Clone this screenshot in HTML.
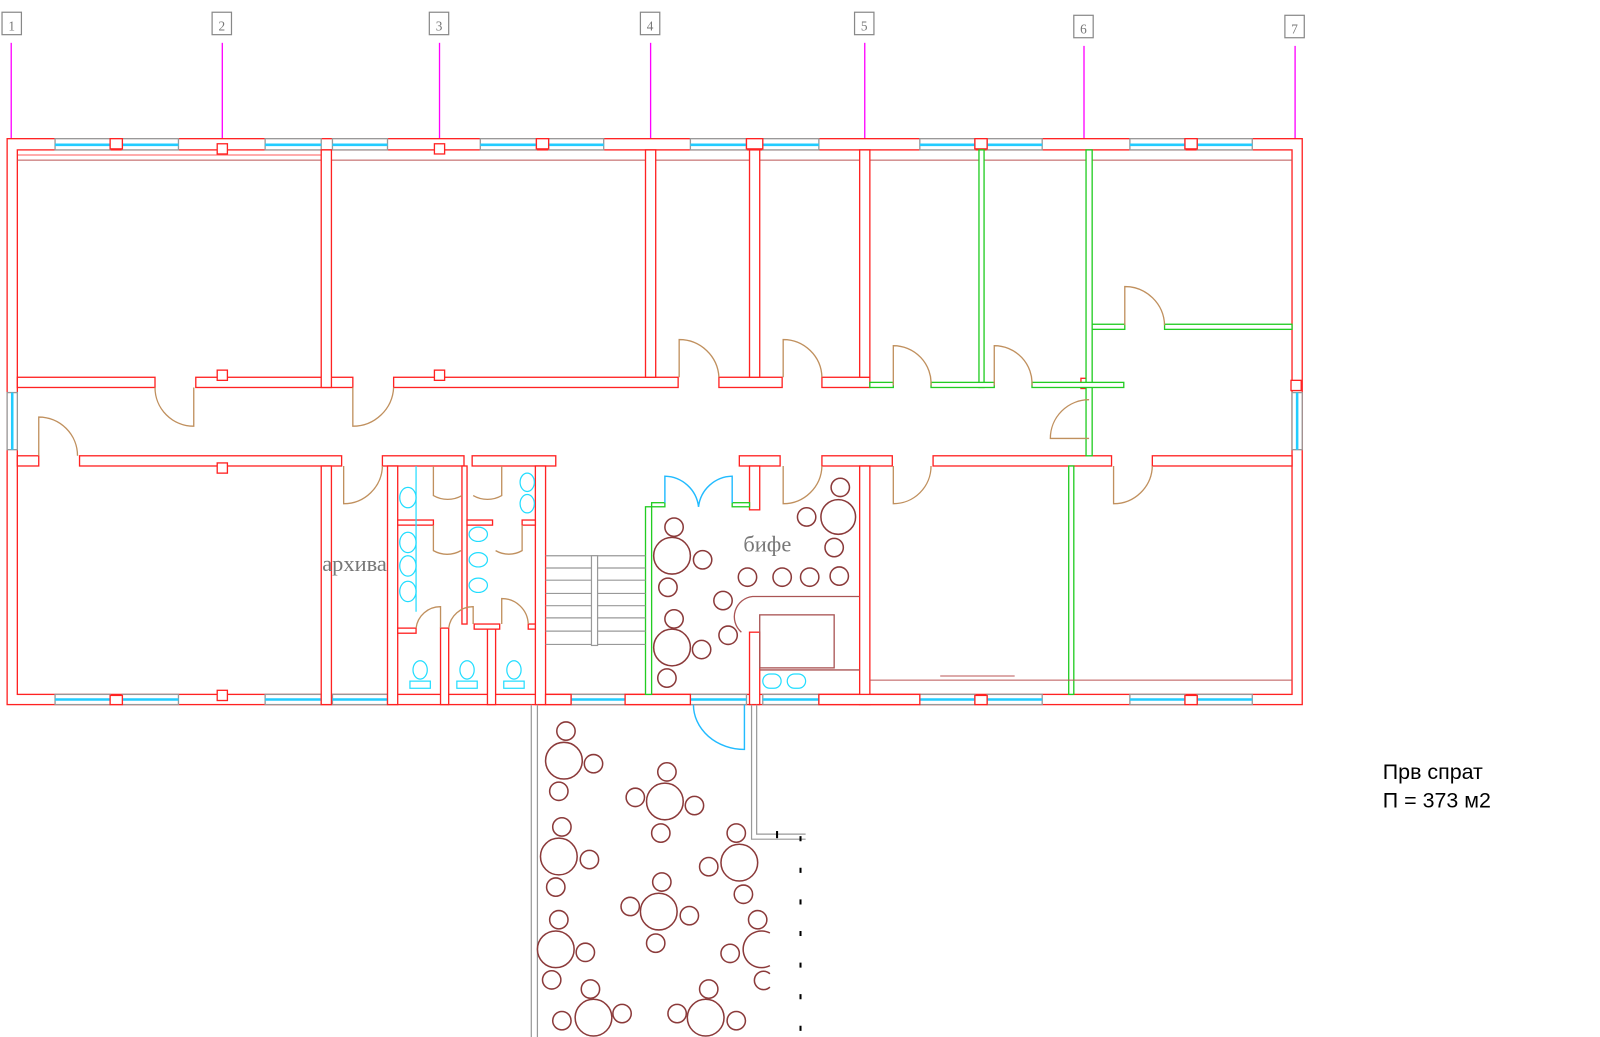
<!DOCTYPE html>
<html><head><meta charset="utf-8"><style>html,body{margin:0;padding:0;background:#fff}svg{display:block}</style></head>
<body>
<svg width="1600" height="1037" viewBox="0 0 1569 1017" preserveAspectRatio="none" xmlns="http://www.w3.org/2000/svg">
<g fill="none" stroke-width="1.3">
<g stroke="#888" stroke-width="1.2">
<rect x="2" y="12" width="19" height="22"/><rect x="208" y="12" width="19" height="22"/><rect x="421" y="12" width="19" height="22"/><rect x="628" y="12" width="19" height="22"/><rect x="838" y="12" width="19" height="22"/><rect x="1053" y="15" width="19" height="22"/><rect x="1260" y="15" width="19" height="22"/>
</g>
<g font-family="Liberation Serif, serif" font-size="13" fill="#777" stroke="none" text-anchor="middle">
<text x="11.5" y="30">1</text><text x="217.5" y="30">2</text><text x="430.5" y="30">3</text><text x="637.5" y="30">4</text><text x="847.5" y="30">5</text><text x="1062.5" y="33">6</text><text x="1269.5" y="33">7</text>
</g>
<g stroke="#f0f" stroke-width="1.3">
<line x1="11" y1="42" x2="11" y2="142"/><line x1="218" y1="42" x2="218" y2="142"/><line x1="431" y1="42" x2="431" y2="142"/><line x1="638" y1="42" x2="638" y2="142"/><line x1="848" y1="42" x2="848" y2="142"/><line x1="1063" y1="45" x2="1063" y2="142"/><line x1="1270" y1="45" x2="1270" y2="142"/>
</g>

<g stroke="#f22" fill="#fff">
<rect x="7" y="136" width="1270" height="555"/>
<rect x="17" y="147" width="1250" height="534"/>
</g>
<g>
<g stroke="#999" fill="#fff">
<rect x="54" y="136" width="54" height="11"/><rect x="120" y="136" width="55" height="11"/><rect x="260" y="136" width="55" height="11"/><rect x="326" y="136" width="54" height="11"/><rect x="471" y="136" width="55" height="11"/><rect x="538" y="136" width="54" height="11"/><rect x="677" y="136" width="55" height="11"/><rect x="748" y="136" width="55" height="11"/><rect x="902" y="136" width="54" height="11"/><rect x="968" y="136" width="54" height="11"/><rect x="1108" y="136" width="54" height="11"/><rect x="1174" y="136" width="54" height="11"/>
<rect x="54" y="681" width="54" height="10"/><rect x="120" y="681" width="55" height="10"/><rect x="260" y="681" width="55" height="10"/><rect x="326" y="681" width="54" height="10"/><rect x="560" y="681" width="53" height="10"/><rect x="677" y="681" width="55" height="10"/><rect x="748" y="681" width="55" height="10"/><rect x="902" y="681" width="54" height="10"/><rect x="968" y="681" width="54" height="10"/><rect x="1108" y="681" width="54" height="10"/><rect x="1174" y="681" width="54" height="10"/>
<rect x="7" y="385" width="10" height="56"/><rect x="1267" y="385" width="10" height="56"/>
</g>
<g stroke="#2cf" stroke-width="2.5">
<line x1="54" y1="142" x2="108" y2="142"/><line x1="120" y1="142" x2="175" y2="142"/><line x1="260" y1="142" x2="315" y2="142"/><line x1="326" y1="142" x2="380" y2="142"/><line x1="471" y1="142" x2="526" y2="142"/><line x1="538" y1="142" x2="592" y2="142"/><line x1="677" y1="142" x2="732" y2="142"/><line x1="748" y1="142" x2="803" y2="142"/><line x1="902" y1="142" x2="956" y2="142"/><line x1="968" y1="142" x2="1022" y2="142"/><line x1="1108" y1="142" x2="1162" y2="142"/><line x1="1174" y1="142" x2="1228" y2="142"/>
<line x1="54" y1="686" x2="108" y2="686"/><line x1="120" y1="686" x2="175" y2="686"/><line x1="260" y1="686" x2="315" y2="686"/><line x1="326" y1="686" x2="380" y2="686"/><line x1="560" y1="686" x2="613" y2="686"/><line x1="677" y1="686" x2="732" y2="686"/><line x1="748" y1="686" x2="803" y2="686"/><line x1="902" y1="686" x2="956" y2="686"/><line x1="968" y1="686" x2="1022" y2="686"/><line x1="1108" y1="686" x2="1162" y2="686"/><line x1="1174" y1="686" x2="1228" y2="686"/>
<line x1="12" y1="385" x2="12" y2="441"/><line x1="1272" y1="385" x2="1272" y2="441"/>
</g>
<g stroke="#f22" fill="#fff">
<rect x="108" y="136" width="12" height="10"/><rect x="526" y="136" width="12" height="10"/><rect x="732" y="136" width="16" height="10"/><rect x="956" y="136" width="12" height="10"/><rect x="1162" y="136" width="12" height="10"/>
<rect x="108" y="682" width="12" height="9"/><rect x="956" y="682" width="12" height="9"/><rect x="1162" y="682" width="12" height="9"/>
</g>
</g>
<line x1="17" y1="157" x2="1267" y2="157" stroke="#b55" stroke-width="1"/>
<line x1="17" y1="152" x2="315" y2="152" stroke="#f22" stroke-width="0.8"/>

<g stroke="#f22" fill="#fff">
<rect x="17" y="370" width="135" height="10"/><rect x="192" y="370" width="154" height="10"/><rect x="386" y="370" width="279" height="10"/><rect x="705" y="370" width="62" height="10"/><rect x="806" y="370" width="47" height="10"/>
<rect x="315" y="147" width="10" height="233"/><rect x="633" y="147" width="10" height="223"/><rect x="735" y="147" width="10" height="223"/><rect x="843" y="147" width="10" height="223"/>
<rect x="17" y="447" width="21" height="10"/><rect x="78" y="447" width="257" height="10"/><rect x="375" y="447" width="80" height="10"/><rect x="463" y="447" width="82" height="10"/><rect x="725" y="447" width="40" height="10"/><rect x="806" y="447" width="69" height="10"/><rect x="915" y="447" width="175" height="10"/><rect x="1130" y="447" width="137" height="10"/>
<rect x="315" y="457" width="10" height="234"/><rect x="380" y="457" width="10" height="234"/><rect x="525" y="457" width="10" height="234"/><rect x="735" y="457" width="10" height="43"/><rect x="735" y="620" width="10" height="71"/><rect x="843" y="457" width="10" height="234"/>
<rect x="390" y="510" width="35" height="5"/><rect x="453" y="457" width="5" height="155"/><rect x="458" y="510" width="25" height="5"/><rect x="512" y="510" width="13" height="5"/>
<rect x="390" y="616" width="18" height="5"/><rect x="432" y="616" width="8" height="75"/><rect x="478" y="616" width="8" height="75"/><rect x="465" y="612" width="25" height="5"/><rect x="518" y="612" width="7" height="5"/>
<rect x="213" y="141" width="10" height="10"/><rect x="426" y="141" width="10" height="10"/><rect x="213" y="363" width="10" height="10"/><rect x="426" y="363" width="10" height="10"/><rect x="213" y="454" width="10" height="10"/><rect x="213" y="677" width="10" height="10"/><rect x="1060" y="371" width="10" height="10"/><rect x="1266" y="373" width="10" height="10"/>
<rect x="613" y="681" width="64" height="10"/><rect x="535" y="681" width="25" height="10"/><rect x="803" y="681" width="99" height="10"/>
</g>

<g stroke="#2c2" fill="#fff">
<rect x="960" y="147" width="5" height="233"/><rect x="1065" y="147" width="6" height="300"/>
<rect x="1071" y="318" width="32" height="5"/><rect x="1142" y="318" width="125" height="5"/>
<rect x="853" y="375" width="23" height="5"/><rect x="913" y="375" width="62" height="5"/><rect x="1012" y="375" width="90" height="5"/>
<rect x="1048" y="457" width="5" height="224"/><rect x="633" y="497" width="6" height="184"/><rect x="718" y="493" width="17" height="4"/><rect x="639" y="493" width="13" height="4"/>
</g>
<line x1="853" y1="667" x2="1267" y2="667" stroke="#b55" stroke-width="1"/>
<line x1="922" y1="663" x2="995" y2="663" stroke="#b55" stroke-width="1"/>

<g stroke="#c0905e" stroke-width="1.3">
<path d="M190 380 V418 A38 38 0 0 1 152 380"/>
<path d="M346 380 V418 A40 40 0 0 0 386 380"/>
<path d="M38 447 V409 A38 38 0 0 1 76 447"/>
<path d="M666 370 V333 A39 39 0 0 1 705 370"/>
<path d="M768 370 V333 A38 38 0 0 1 806 370"/>
<path d="M876 378 V339 A37 37 0 0 1 913 378"/>
<path d="M975 378 V339 A37 37 0 0 1 1012 378"/>
<path d="M1103 319 V281 A39 39 0 0 1 1142 319"/>
<path d="M1068 430 H1030 A38 38 0 0 1 1068 392"/>
<path d="M337 457 V494 A38 38 0 0 0 375 457"/>
<path d="M768 457 V494 A38 38 0 0 0 806 457"/>
<path d="M876 457 V494 A37 37 0 0 0 913 457"/>
<path d="M1092 457 V494 A38 38 0 0 0 1130 457"/>
<path d="M425 457 V486 A28 28 0 0 0 453 486"/><path d="M492 457 V486 A28 28 0 0 1 464 486"/>
<path d="M425 515 V540 A27 27 0 0 0 452 540"/><path d="M512 515 V540 A26 26 0 0 1 486 540"/>
<path d="M408 616 A24 24 0 0 1 432 595 V616"/><path d="M440 616 A24 24 0 0 1 464 595 V612"/><path d="M492 612 V587 A26 26 0 0 1 518 612"/>
</g>
<g stroke="#2bf" stroke-width="1.4">
<path d="M652 493 V467 A34 34 0 0 1 685 497"/><path d="M718 493 V467 A34 34 0 0 0 685 497"/>
<path d="M730 691 V735 A50 44 0 0 1 680 691"/>
</g>

<g stroke="#2df" stroke-width="1.2">
<line x1="408" y1="457" x2="408" y2="600"/>
<ellipse cx="400" cy="488" rx="8" ry="10"/><ellipse cx="400" cy="532" rx="8" ry="10"/><ellipse cx="400" cy="555" rx="8" ry="10"/><ellipse cx="400" cy="580" rx="8" ry="10"/>
<ellipse cx="517" cy="473" rx="7" ry="9"/><ellipse cx="517" cy="494" rx="7" ry="9"/>
<ellipse cx="469" cy="524" rx="9" ry="7"/><ellipse cx="469" cy="549" rx="9" ry="7"/><ellipse cx="469" cy="574" rx="9" ry="7"/>
<ellipse cx="412" cy="657" rx="7" ry="9"/><rect x="402" y="668" width="20" height="7"/>
<ellipse cx="458" cy="657" rx="7" ry="9"/><rect x="448" y="668" width="20" height="7"/>
<ellipse cx="504" cy="657" rx="7" ry="9"/><rect x="494" y="668" width="20" height="7"/>
<rect x="748" y="661" width="18" height="14" rx="7"/><rect x="772" y="661" width="18" height="14" rx="7"/>
</g>

<g stroke="#999" stroke-width="1.2">
<line x1="535" y1="545" x2="633" y2="545"/><line x1="535" y1="557" x2="633" y2="557"/><line x1="535" y1="569" x2="633" y2="569"/><line x1="535" y1="582" x2="633" y2="582"/><line x1="535" y1="594" x2="633" y2="594"/><line x1="535" y1="606" x2="633" y2="606"/><line x1="535" y1="619" x2="633" y2="619"/><line x1="535" y1="632" x2="633" y2="632"/>
<rect x="580" y="545" width="6" height="88" fill="#fff"/>
</g>

<g stroke="#a55" stroke-width="1.3">
<path d="M843 585 H738 A20 20 0 0 0 727 620"/>
<rect x="745" y="603" width="73" height="52"/>
<line x1="745" y1="657" x2="843" y2="657"/>
</g>

<g stroke="#999" stroke-width="1.2">
<line x1="521" y1="691" x2="521" y2="1017"/><line x1="527" y1="691" x2="527" y2="1017"/>
<path d="M737 691 V823 H790"/><path d="M742 691 V818 H790"/>
</g>
<line x1="785" y1="820" x2="785" y2="1017" stroke="#000" stroke-width="2" stroke-dasharray="5 26"/>
<line x1="762" y1="815" x2="762" y2="822" stroke="#000" stroke-width="2"/>

<g stroke="#8b3a3a" stroke-width="1.5">
<circle cx="822" cy="507" r="17"/><circle cx="824" cy="478" r="9"/><circle cx="791" cy="507" r="9"/><circle cx="818" cy="537" r="9"/>
<circle cx="659" cy="545" r="18"/><circle cx="661" cy="517" r="9"/><circle cx="689" cy="549" r="9"/><circle cx="655" cy="576" r="9"/>
<circle cx="659" cy="635" r="18"/><circle cx="661" cy="607" r="9"/><circle cx="688" cy="637" r="9"/><circle cx="654" cy="665" r="9"/>
<circle cx="733" cy="566" r="9"/><circle cx="767" cy="566" r="9"/><circle cx="794" cy="566" r="9"/><circle cx="823" cy="565" r="9"/><circle cx="709" cy="589" r="9"/><circle cx="714" cy="623" r="9"/>
<circle cx="553" cy="746" r="18"/><circle cx="555" cy="717" r="9"/><circle cx="582" cy="749" r="9"/><circle cx="548" cy="776" r="9"/>
<circle cx="652" cy="786" r="18"/><circle cx="654" cy="757" r="9"/><circle cx="623" cy="782" r="9"/><circle cx="681" cy="790" r="9"/><circle cx="648" cy="817" r="9"/>
<circle cx="548" cy="840" r="18"/><circle cx="551" cy="811" r="9"/><circle cx="578" cy="843" r="9"/><circle cx="545" cy="870" r="9"/>
<circle cx="725" cy="846" r="18"/><circle cx="722" cy="817" r="9"/><circle cx="695" cy="850" r="9"/><circle cx="729" cy="877" r="9"/>
<circle cx="646" cy="894" r="18"/><circle cx="649" cy="865" r="9"/><circle cx="618" cy="889" r="9"/><circle cx="676" cy="898" r="9"/><circle cx="643" cy="925" r="9"/>
<circle cx="545" cy="931" r="18"/><circle cx="548" cy="902" r="9"/><circle cx="574" cy="934" r="9"/><circle cx="541" cy="961" r="9"/>
<path d="M755 915 A18 18 0 1 0 755 947"/><circle cx="743" cy="902" r="9"/><circle cx="716" cy="935" r="9"/><path d="M755 955 A9 9 0 1 0 755 968"/>
<circle cx="582" cy="998" r="18"/><circle cx="579" cy="970" r="9"/><circle cx="551" cy="1001" r="9"/><circle cx="610" cy="994" r="9"/>
<circle cx="692" cy="998" r="18"/><circle cx="695" cy="970" r="9"/><circle cx="664" cy="994" r="9"/><circle cx="722" cy="1001" r="9"/>
</g>
</g>

<g font-family="Liberation Serif, serif" font-size="22" fill="#777">
<text x="316" y="560">архива</text>
<text x="729" y="541">бифе</text>
</g>
<g font-family="Liberation Sans, sans-serif" font-size="21" fill="#000">
<text x="1356" y="764">Прв спрат</text>
<text x="1356" y="792">П = 373 м2</text>
</g>
</svg>
</body></html>
